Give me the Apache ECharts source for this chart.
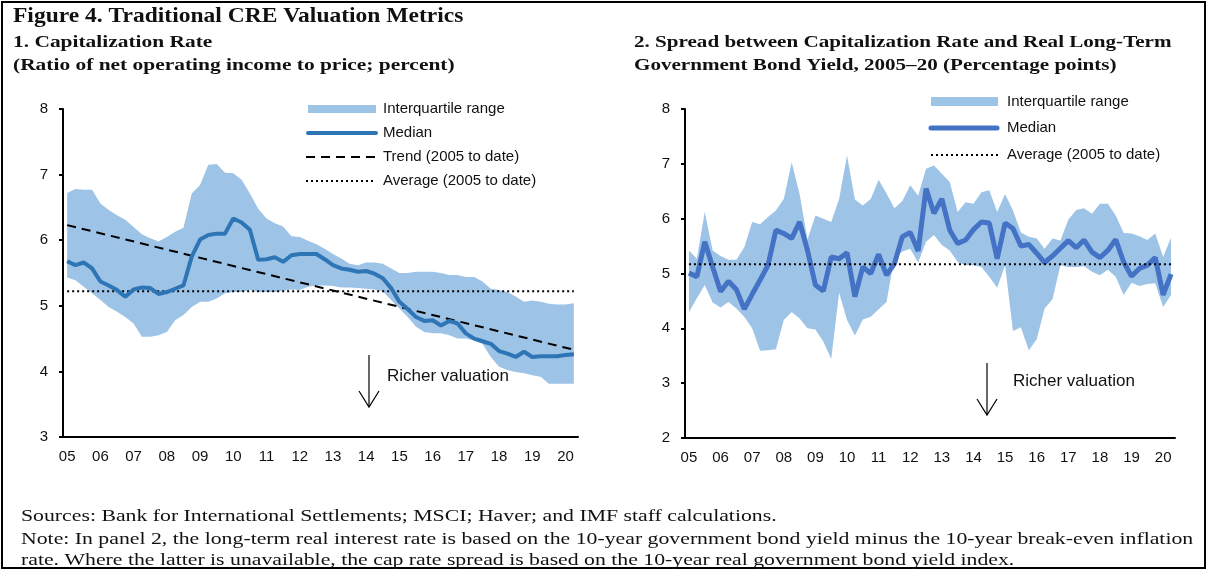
<!DOCTYPE html>
<html>
<head>
<meta charset="utf-8">
<script src="https://cdn.jsdelivr.net/npm/echarts@6/dist/echarts.min.js"></script>
<style>
  html, body { margin: 0; padding: 0; background: #fff; }
  #chart { width: 1209px; height: 571px; }
</style>
</head>
<body>
<div id="chart"></div>
<script>
// year tick labels, quarterly categories are built from them
const yearLabels = ['05', '06', '07', '08', '09', '10', '11', '12', '13', '14', '15', '16', '17', '18', '19', '20'];

// panel 1: capitalization rate (percent), 2005Q1 - 2020Q2
const capMedian = [5.68, 5.62, 5.66, 5.57, 5.37, 5.31, 5.24, 5.14, 5.25, 5.28, 5.27, 5.18, 5.21, 5.26, 5.31, 5.75,
  6.01, 6.08, 6.10, 6.10, 6.33, 6.27, 6.16, 5.70, 5.71, 5.74, 5.67, 5.77, 5.79, 5.79, 5.79, 5.71,
  5.62, 5.57, 5.55, 5.52, 5.53, 5.49, 5.42, 5.27, 5.06, 4.95, 4.83, 4.77, 4.78, 4.70, 4.77, 4.73,
  4.58, 4.50, 4.46, 4.42, 4.31, 4.27, 4.22, 4.30, 4.22, 4.23, 4.23, 4.23, 4.25, 4.26];
const capUpper = [6.72, 6.78, 6.77, 6.77, 6.56, 6.46, 6.38, 6.31, 6.20, 6.09, 6.03, 5.98, 6.05, 6.13, 6.19, 6.71,
  6.84, 7.15, 7.16, 7.03, 7.02, 6.92, 6.71, 6.48, 6.33, 6.26, 6.21, 6.06, 6.05, 5.99, 5.94, 5.87,
  5.79, 5.72, 5.64, 5.62, 5.66, 5.66, 5.64, 5.57, 5.50, 5.50, 5.52, 5.52, 5.52, 5.50, 5.47, 5.47,
  5.44, 5.44, 5.37, 5.26, 5.24, 5.21, 5.14, 5.06, 5.08, 5.06, 5.03, 5.02, 5.02, 5.04];
const capLower = [5.43, 5.39, 5.29, 5.19, 5.09, 4.98, 4.91, 4.83, 4.73, 4.53, 4.53, 4.55, 4.60, 4.78, 4.86, 4.98,
  5.06, 5.06, 5.11, 5.19, 5.21, 5.21, 5.24, 5.21, 5.21, 5.21, 5.23, 5.25, 5.24, 5.29, 5.31, 5.31,
  5.30, 5.28, 5.28, 5.27, 5.26, 5.25, 5.22, 5.09, 4.96, 4.83, 4.68, 4.60, 4.58, 4.58, 4.55, 4.50,
  4.50, 4.47, 4.42, 4.22, 4.07, 4.02, 3.99, 3.97, 3.94, 3.92, 3.81, 3.81, 3.81, 3.81];
const capTrend = [6.23, 4.33];   // first and last quarter
const capAverage = 5.22;

// panel 2: cap rate spread over real long-term yield (percentage points)
const spreadMedian = [5.01, 4.94, 5.58, 5.12, 4.67, 4.86, 4.71, 4.35, 4.62, 4.88, 5.15, 5.79, 5.73, 5.64, 5.94, 5.42,
  4.79, 4.68, 5.30, 5.27, 5.38, 4.58, 5.12, 5.00, 5.35, 4.97, 5.18, 5.67, 5.75, 5.41, 6.55, 6.10,
  6.36, 5.79, 5.55, 5.61, 5.80, 5.94, 5.92, 5.27, 5.92, 5.82, 5.50, 5.53, 5.37, 5.20, 5.32, 5.46,
  5.60, 5.47, 5.61, 5.39, 5.29, 5.42, 5.62, 5.21, 4.95, 5.09, 5.15, 5.29, 4.61, 4.99];
const spreadUpper = [5.42, 5.27, 6.12, 5.42, 5.32, 5.25, 5.25, 5.48, 5.94, 5.90, 6.03, 6.15, 6.36, 7.03, 6.45, 5.62,
  6.06, 6.00, 5.94, 6.36, 7.15, 6.35, 6.24, 6.36, 6.71, 6.46, 6.19, 6.32, 6.61, 6.42, 6.91, 6.97,
  6.82, 6.67, 6.12, 6.30, 6.27, 6.48, 6.52, 6.12, 6.45, 6.15, 5.75, 5.67, 5.64, 5.45, 5.64, 5.60,
  5.98, 6.16, 6.19, 6.09, 6.27, 6.27, 6.06, 5.74, 5.73, 5.68, 5.61, 5.73, 5.30, 5.65];
const spreadLower = [4.30, 4.55, 4.79, 4.47, 4.38, 4.48, 4.36, 4.21, 4.00, 3.59, 3.60, 3.62, 4.15, 4.30, 4.18, 4.00,
  3.98, 3.76, 3.44, 4.65, 4.15, 3.87, 4.16, 4.21, 4.35, 4.48, 5.30, 5.40, 5.45, 5.20, 5.58, 5.70,
  5.52, 5.42, 5.21, 5.15, 5.15, 5.12, 4.94, 4.74, 5.15, 3.95, 4.02, 3.60, 3.80, 4.36, 4.53, 5.15,
  5.12, 5.12, 5.13, 5.03, 4.97, 5.07, 4.94, 4.61, 4.83, 4.77, 4.81, 4.82, 4.39, 4.61];
const spreadAverage = 5.17;

const quarters = yearLabels
  .flatMap((y) => ['Q1', 'Q2', 'Q3', 'Q4'].map((q) => y + q))
  .slice(0, capMedian.length);
const firstQ = quarters[0];
const lastQ = quarters[quarters.length - 1];

const bandColor = '#9dc3e6';
const sans = 'Liberation Sans, Arial, sans-serif';
const serif = 'Liberation Serif, Times New Roman, serif';

const chart = echarts.init(document.getElementById('chart'));

// shared axis look
const xAxisBase = (gridIndex) => ({
  type: 'category',
  gridIndex: gridIndex,
  data: quarters,
  boundaryGap: true,
  axisLine: { lineStyle: { color: '#000', width: 2 } },
  axisTick: { interval: 3, length: 5, lineStyle: { color: '#000', width: 2 } },
  axisLabel: {
    interval: 3,
    margin: 12,
    color: '#111',
    fontSize: 15,
    fontFamily: sans,
    formatter: (v) => v.slice(0, 2),
  },
  splitLine: { show: false },
});
const yAxisBase = (gridIndex, min, max) => ({
  type: 'value',
  gridIndex: gridIndex,
  min: min,
  max: max,
  interval: 1,
  axisLine: { show: true, lineStyle: { color: '#000', width: 2 } },
  axisTick: { show: true, length: 4, lineStyle: { color: '#000', width: 2 } },
  axisLabel: { margin: 15, color: '#111', fontSize: 15, fontFamily: sans },
  splitLine: { show: false },
});

// band = invisible lower line + stacked (upper - lower) area
const bandSeries = (idx, lower, upper, name) => [
  {
    type: 'line',
    xAxisIndex: idx,
    yAxisIndex: idx,
    stack: name,
    data: lower,
    symbol: 'none',
    lineStyle: { opacity: 0 },
    silent: true,
  },
  {
    type: 'line',
    xAxisIndex: idx,
    yAxisIndex: idx,
    stack: name,
    data: upper.map((u, i) => +(u - lower[i]).toFixed(2)),
    symbol: 'none',
    lineStyle: { opacity: 0 },
    areaStyle: { color: bandColor, opacity: 1 },
    silent: true,
  },
];

const flatLine = (idx, data, type, width, z) => ({
  type: 'line',
  xAxisIndex: idx,
  yAxisIndex: idx,
  data: data,
  symbol: 'none',
  z: z,
  lineStyle: { color: '#000', width: width, type: type },
  silent: true,
});

// legend / annotation helpers; sx stretches serif text to the width of the original
const txt = (x, y, text, font, sx) => ({
  type: 'text',
  x: x,
  y: y,
  scaleX: sx || 1,
  style: { text: text, font: font, fill: '#111', textVerticalAlign: 'middle' },
});
const seg = (x1, y1, x2, y2, style) => ({
  type: 'line',
  shape: { x1: x1, y1: y1, x2: x2, y2: y2 },
  style: Object.assign({ stroke: '#000', lineWidth: 2 }, style),
});
const arrow = (x, y1, y2) => [
  seg(x, y1, x, y2, { lineWidth: 1.2 }),
  {
    type: 'polyline',
    shape: { points: [[x - 10, y2 - 16], [x, y2], [x + 10, y2 - 16]] },
    style: { stroke: '#000', lineWidth: 1.2, fill: null },
  },
];

const option = {
  animation: false,
  backgroundColor: '#fff',
  grid: [
    { left: 63, top: 109, width: 515, height: 328 },
    { left: 685, top: 109, width: 490, height: 329 },
  ],
  xAxis: [xAxisBase(0), xAxisBase(1)],
  yAxis: [yAxisBase(0, 3, 8), yAxisBase(1, 2, 8)],
  series: [
    ...bandSeries(0, capLower, capUpper, 'capBand'),
    flatLine(0, [[firstQ, capAverage], [lastQ, capAverage]], [2, 3], 2, 3),
    flatLine(0, [[firstQ, capTrend[0]], [lastQ, capTrend[1]]], [9, 6], 2, 3),
    {
      type: 'line', xAxisIndex: 0, yAxisIndex: 0, data: capMedian, symbol: 'none', z: 4,
      lineStyle: { color: '#2e75b6', width: 4 },
    },
    ...bandSeries(1, spreadLower, spreadUpper, 'spreadBand'),
    {
      type: 'line', xAxisIndex: 1, yAxisIndex: 1, data: spreadMedian, symbol: 'none', z: 4,
      lineStyle: { color: '#4472c4', width: 5 },
    },
    flatLine(1, [[firstQ, spreadAverage], [lastQ, spreadAverage]], [2, 3], 2, 5),
  ],
  graphic: [
    // frame
    { type: 'rect', shape: { x: 2, y: 2, width: 1203, height: 566 },
      style: { fill: null, stroke: '#000', lineWidth: 2 } },
    txt(13, 17, 'Figure 4. Traditional CRE Valuation Metrics', 'bold 21px ' + serif, 1.12),
    txt(13, 43, '1. Capitalization Rate', 'bold 17px ' + serif, 1.26),
    txt(13, 66, '(Ratio of net operating income to price; percent)', 'bold 17px ' + serif, 1.26),
    txt(634, 43, '2. Spread between Capitalization Rate and Real Long-Term', 'bold 17px ' + serif, 1.24),
    txt(634, 66, 'Government Bond Yield, 2005\u201320 (Percentage points)', 'bold 17px ' + serif, 1.24),
    txt(21, 517, 'Sources: Bank for International Settlements; MSCI; Haver; and IMF staff calculations.', '17px ' + serif, 1.28),
    txt(21, 540, 'Note: In panel 2, the long-term real interest rate is based on the 10-year government bond yield minus the 10-year break-even inflation', '17px ' + serif, 1.28),
    txt(21, 561, 'rate. Where the latter is unavailable, the cap rate spread is based on the 10-year real government bond yield index.', '17px ' + serif, 1.28),

    // panel 1 legend
    { type: 'rect', shape: { x: 308, y: 105, width: 68, height: 8 }, style: { fill: bandColor } },
    seg(308, 133, 376, 133, { stroke: '#2e75b6', lineWidth: 4, lineCap: 'round' }),
    seg(306, 157, 376, 157, { lineDash: [9, 6] }),
    seg(306, 181, 376, 181, { lineDash: [2, 3] }),
    txt(383, 109, 'Interquartile range', '15px ' + sans),
    txt(383, 133, 'Median', '15px ' + sans),
    txt(383, 157, 'Trend (2005 to date)', '15px ' + sans),
    txt(383, 181, 'Average (2005 to date)', '15px ' + sans),
    txt(387, 376, 'Richer valuation', '17px ' + sans),
    ...arrow(369, 355, 407),

    // panel 2 legend
    { type: 'rect', shape: { x: 931, y: 97, width: 67, height: 9 }, style: { fill: bandColor } },
    seg(931, 128, 997, 128, { stroke: '#4472c4', lineWidth: 5, lineCap: 'round' }),
    seg(931, 155, 998, 155, { lineDash: [2, 3] }),
    txt(1007, 102, 'Interquartile range', '15px ' + sans),
    txt(1007, 128, 'Median', '15px ' + sans),
    txt(1007, 155, 'Average (2005 to date)', '15px ' + sans),
    txt(1013, 381, 'Richer valuation', '17px ' + sans),
    ...arrow(987, 363, 415),
  ],
};

chart.setOption(option);
</script>
</body>
</html>
